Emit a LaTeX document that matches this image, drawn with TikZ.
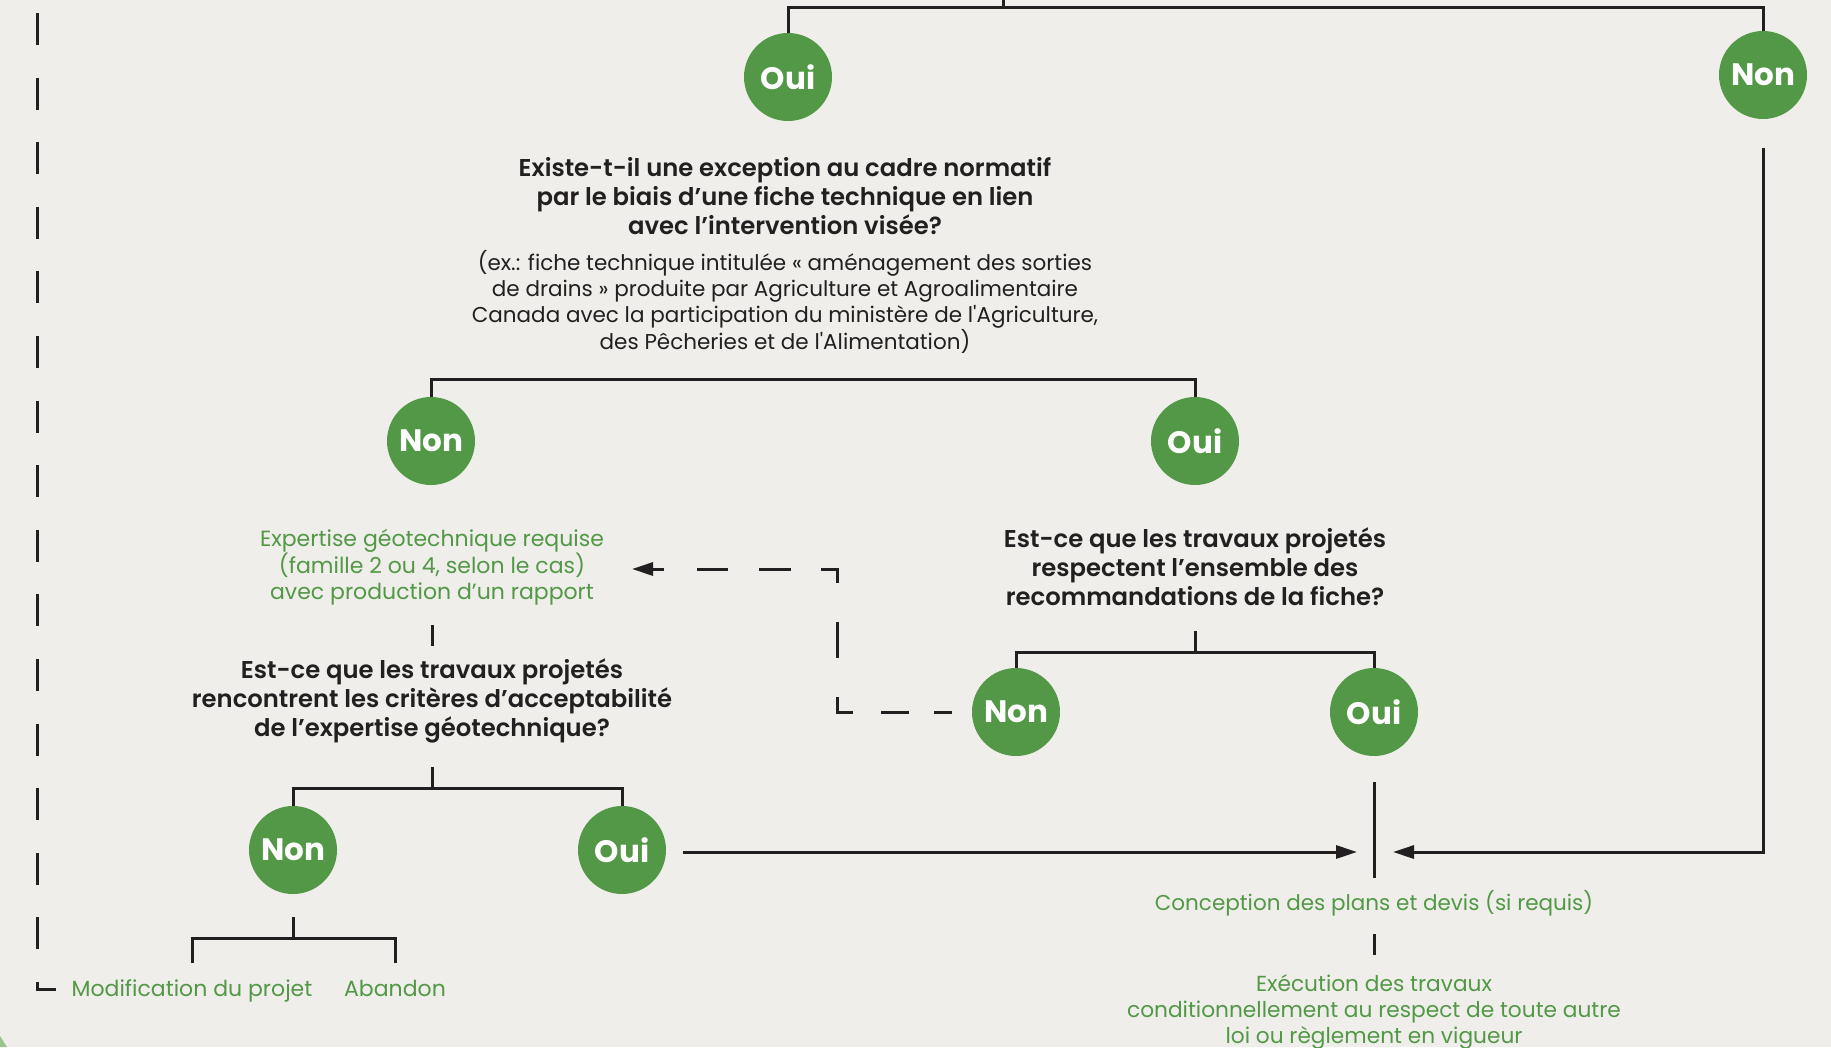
\documentclass[tikz,border=0pt]{standalone}
\usepackage{fontspec}
\setmainfont{Poppins}[BoldFont={Poppins SemiBold}]
\newfontfamily\epais{Poppins}
\usetikzlibrary{arrows.meta}
\usetikzlibrary{calc}
\definecolor{fond}{HTML}{EFEEEA}
\definecolor{vertmat}{HTML}{529846}
\definecolor{vertpale}{HTML}{9CC38C}
\definecolor{encre}{HTML}{231F20}

\begin{document}
\begin{tikzpicture}[x=1pt,y=-1pt,
      rep/.style={circle,fill=vertmat,text=white,minimum size=88pt,inner sep=0pt,
        font=\epais\fontsize{31}{34}\selectfont\bfseries},
      quest/.style={align=center,text=encre,font=\fontsize{24.3}{29}\selectfont\bfseries},
      note/.style={align=center,text=encre,font=\fontsize{21.5}{25.7}\selectfont},
      vert/.style={align=center,text=vertmat,font=\fontsize{22}{26}\selectfont},
      lien/.style={draw=encre,line width=3pt},
      fleche/.style={-{Triangle[length=21pt,width=13pt]}}]

      \fill[fond] (0,0) rectangle (1831,1047);
      \useasboundingbox (0,0) rectangle (1831,1047);
      \fill[vertpale] (0,1036) -- (7,1047) -- (0,1047) -- cycle;

      % reponses
      \node[rep] (oui1) at (788,77) {Oui};
      \node[rep] (non1) at (1763,75) {Non};
      \node[rep] (non2) at (431,441) {Non};
      \node[rep] (oui2) at (1195,441) {Oui};
      \node[rep] (non3) at (1016,712) {Non};
      \node[rep] (oui3) at (1374,712) {Oui};
      \node[rep] (non4) at (293,850) {Non};
      \node[rep] (oui4) at (622,850) {Oui};

      % questions et etapes
      \node[quest] (q1) at (785,196) {Existe-t-il une exception au cadre normatif\\
        par le biais d’une fiche technique en lien\\avec l’intervention visée?};
      \node[note] (ex) at (785,302) {(ex.: fiche technique intitulée « aménagement des sorties\\
        de drains » produite par Agriculture et Agroalimentaire\\
        Canada avec la participation du ministère de l\textquotesingle Agriculture,\\
        des Pêcheries et de l\textquotesingle Alimentation)};
      \node[quest] (q2) at (1195,567) {Est-ce que les travaux projetés\\
        respectent l’ensemble des\\recommandations de la fiche?};
      \node[vert] (expert) at (432,567) {Expertise géotechnique requise\\
        (famille 2 ou 4, selon le cas)\\avec production d’un rapport};
      \node[quest] (q3) at (432,701) {Est-ce que les travaux projetés\\
        rencontrent les critères d’acceptabilité\\de l’expertise géotechnique?};
      \node[vert,anchor=base] (modif) at (192,996) {Modification du projet};
      \node[vert,anchor=base] (aband) at (395,996) {Abandon};
      \node[vert,font=\fontsize{21.5}{26}\selectfont] (plans) at (1374,903)
        {Conception des plans et devis (si requis)};
      \node[vert,font=\fontsize{21.7}{26}\selectfont] (exec) at (1374,1012) {Exécution des travaux\\
        conditionnellement au respect de toute autre\\loi ou règlement en vigueur};

      \coordinate (haut) at (1003,7);
      \coordinate (retour) at (37,13);
      \coordinate (pointe) at (632,569);

      % liens
      \draw[lien] (haut) -- (haut |- 0,0);
      \draw[lien] (oui1.north) |- (haut) -| (non1.north);
      \draw[lien] (non2.north) -- ++(0,-17) -| (oui2.north);
      \draw[lien] (q2.south |- 0,631) -- (q2.south |- 0,652);
      \draw[lien] (non3.north) |- (q2.south |- 0,652) -| (oui3.north);
      \draw[lien] (expert.south |- 0,625) -- (expert.south |- 0,646);
      \draw[lien] (q3.south |- 0,767) -- (q3.south |- 0,788);
      \draw[lien] (non4.north) |- (q3.south |- 0,788) -| (oui4.north);
      \draw[lien] (non4.south |- 0,917) -- (non4.south |- 0,938);
      \draw[lien] (modif.north |- 0,963) |- (non4.south |- 0,938) -| (aband.north |- 0,963);
      \draw[lien] (oui3.south |- 0,782) -- (oui3.south |- 0,878);
      \draw[lien] (plans.south |- 0,934) -- (plans.south |- 0,955);

      % fleches vers la conception
      \draw[lien,fleche] ($(oui4.east)+(17,2)$) -- ($(oui3.south |- 0,852)+(-17,0)$);
      \draw[lien,fleche] ($(non1.south)+(0,29)$) |- ($(oui3.south |- 0,852)+(19,0)$);

      % retours en tirets
      \draw[lien,fleche,dash pattern=on 18pt off 25pt on 28pt off 28pt on 31pt off 39pt
          on 36pt off 39pt on 30pt off 30pt on 32pt off 31pt on 31pt off 33pt on 20pt off 100pt]
        ($(non3.west)+(-20,0)$) -| (837,569) -- (pointe);
      \draw[lien,dash pattern=on 32pt off 32.6pt] (retour) |- ($(modif.west |- 0,989)+(-12,0)$);
\end{tikzpicture}
\end{document}
